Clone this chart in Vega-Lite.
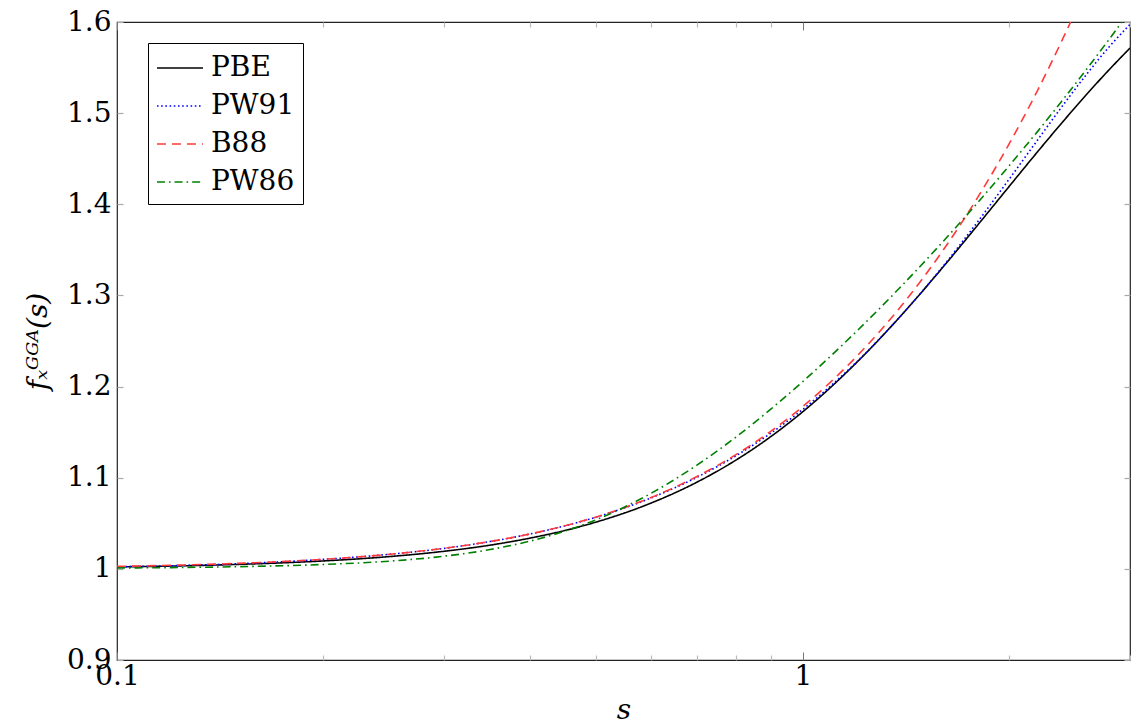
{
  "$schema": "https://vega.github.io/schema/vega-lite/v6.json",
  "width": 1013,
  "height": 638,
  "autosize": {"type": "none"},
  "padding": {"left": 117, "top": 22, "right": 1, "bottom": 67},
  "background": "white",
  "config": {
    "font": "DejaVu Serif",
    "view": {"stroke": "#222", "strokeWidth": 1.2},
    "axis": {"grid": false, "domain": false, "labelFont": "DejaVu Serif", "titleFont": "DejaVu Serif", "labelColor": "black", "titleColor": "black", "titleFontWeight": "normal", "labelFontSize": 28, "titleFontSize": 28},
    "legend": {"labelFont": "DejaVu Serif"}
  },
  "datasets": {
    "curves": [
      {"s": 0.1, "f": 1.0022, "m": "PBE"}, {"s": 0.12, "f": 1.0031, "m": "PBE"}, {"s": 0.15, "f": 1.0049, "m": "PBE"}, {"s": 0.2, "f": 1.0087, "m": "PBE"}, {"s": 0.25, "f": 1.0135, "m": "PBE"}, {"s": 0.3, "f": 1.0193, "m": "PBE"}, {"s": 0.35, "f": 1.026, "m": "PBE"}, {"s": 0.4, "f": 1.0337, "m": "PBE"}, {"s": 0.45, "f": 1.0421, "m": "PBE"}, {"s": 0.5, "f": 1.0514, "m": "PBE"}, {"s": 0.6, "f": 1.072, "m": "PBE"}, {"s": 0.7, "f": 1.0949, "m": "PBE"}, {"s": 0.8, "f": 1.1196, "m": "PBE"}, {"s": 0.9, "f": 1.1456, "m": "PBE"}, {"s": 1.0, "f": 1.1724, "m": "PBE"}, {"s": 1.2, "f": 1.2269, "m": "PBE"}, {"s": 1.4, "f": 1.2803, "m": "PBE"}, {"s": 1.6, "f": 1.3308, "m": "PBE"}, {"s": 1.8, "f": 1.3774, "m": "PBE"}, {"s": 2.0, "f": 1.4197, "m": "PBE"}, {"s": 2.2, "f": 1.4577, "m": "PBE"}, {"s": 2.4, "f": 1.4915, "m": "PBE"}, {"s": 2.6, "f": 1.5215, "m": "PBE"}, {"s": 2.8, "f": 1.548, "m": "PBE"}, {"s": 3.0, "f": 1.5714, "m": "PBE"},
      {"s": 0.1, "f": 1.0022, "m": "PW91"}, {"s": 0.12, "f": 1.0034, "m": "PW91"}, {"s": 0.15, "f": 1.0056, "m": "PW91"}, {"s": 0.2, "f": 1.0104, "m": "PW91"}, {"s": 0.25, "f": 1.016, "m": "PW91"}, {"s": 0.3, "f": 1.0225, "m": "PW91"}, {"s": 0.35, "f": 1.03, "m": "PW91"}, {"s": 0.4, "f": 1.0382, "m": "PW91"}, {"s": 0.45, "f": 1.0472, "m": "PW91"}, {"s": 0.5, "f": 1.0568, "m": "PW91"}, {"s": 0.6, "f": 1.0776, "m": "PW91"}, {"s": 0.7, "f": 1.1003, "m": "PW91"}, {"s": 0.8, "f": 1.1243, "m": "PW91"}, {"s": 0.9, "f": 1.1493, "m": "PW91"}, {"s": 1.0, "f": 1.175, "m": "PW91"}, {"s": 1.2, "f": 1.2275, "m": "PW91"}, {"s": 1.4, "f": 1.2802, "m": "PW91"}, {"s": 1.6, "f": 1.3317, "m": "PW91"}, {"s": 1.8, "f": 1.3811, "m": "PW91"}, {"s": 2.0, "f": 1.4277, "m": "PW91"}, {"s": 2.2, "f": 1.4706, "m": "PW91"}, {"s": 2.4, "f": 1.5095, "m": "PW91"}, {"s": 2.6, "f": 1.5437, "m": "PW91"}, {"s": 2.8, "f": 1.5731, "m": "PW91"}, {"s": 3.0, "f": 1.5973, "m": "PW91"},
      {"s": 0.1, "f": 1.0027, "m": "B88"}, {"s": 0.12, "f": 1.0039, "m": "B88"}, {"s": 0.15, "f": 1.006, "m": "B88"}, {"s": 0.2, "f": 1.0105, "m": "B88"}, {"s": 0.25, "f": 1.016, "m": "B88"}, {"s": 0.3, "f": 1.0226, "m": "B88"}, {"s": 0.35, "f": 1.03, "m": "B88"}, {"s": 0.4, "f": 1.0383, "m": "B88"}, {"s": 0.45, "f": 1.0473, "m": "B88"}, {"s": 0.5, "f": 1.057, "m": "B88"}, {"s": 0.6, "f": 1.0781, "m": "B88"}, {"s": 0.7, "f": 1.1011, "m": "B88"}, {"s": 0.8, "f": 1.1256, "m": "B88"}, {"s": 0.9, "f": 1.1514, "m": "B88"}, {"s": 1.0, "f": 1.1781, "m": "B88"}, {"s": 1.2, "f": 1.2336, "m": "B88"}, {"s": 1.4, "f": 1.2908, "m": "B88"}, {"s": 1.6, "f": 1.3491, "m": "B88"}, {"s": 1.8, "f": 1.4078, "m": "B88"}, {"s": 2.0, "f": 1.4665, "m": "B88"}, {"s": 2.2, "f": 1.5251, "m": "B88"}, {"s": 2.4, "f": 1.5834, "m": "B88"}, {"s": 2.5, "f": 1.6124, "m": "B88"}, {"s": 2.6, "f": 1.6413, "m": "B88"}, {"s": 2.8, "f": 1.6988, "m": "B88"}, {"s": 3.0, "f": 1.7558, "m": "B88"},
      {"s": 0.1, "f": 1.001, "m": "PW86"}, {"s": 0.12, "f": 1.0014, "m": "PW86"}, {"s": 0.15, "f": 1.0024, "m": "PW86"}, {"s": 0.2, "f": 1.0048, "m": "PW86"}, {"s": 0.25, "f": 1.0085, "m": "PW86"}, {"s": 0.3, "f": 1.0139, "m": "PW86"}, {"s": 0.35, "f": 1.0212, "m": "PW86"}, {"s": 0.4, "f": 1.0304, "m": "PW86"}, {"s": 0.45, "f": 1.0414, "m": "PW86"}, {"s": 0.5, "f": 1.054, "m": "PW86"}, {"s": 0.6, "f": 1.0826, "m": "PW86"}, {"s": 0.7, "f": 1.1136, "m": "PW86"}, {"s": 0.8, "f": 1.1449, "m": "PW86"}, {"s": 0.9, "f": 1.1758, "m": "PW86"}, {"s": 1.0, "f": 1.2055, "m": "PW86"}, {"s": 1.2, "f": 1.2612, "m": "PW86"}, {"s": 1.4, "f": 1.3121, "m": "PW86"}, {"s": 1.6, "f": 1.3588, "m": "PW86"}, {"s": 1.8, "f": 1.402, "m": "PW86"}, {"s": 2.0, "f": 1.4424, "m": "PW86"}, {"s": 2.2, "f": 1.48, "m": "PW86"}, {"s": 2.4, "f": 1.5156, "m": "PW86"}, {"s": 2.6, "f": 1.5493, "m": "PW86"}, {"s": 2.8, "f": 1.5815, "m": "PW86"}, {"s": 3.0, "f": 1.6122, "m": "PW86"}
    ],
    "anchor": [{"s": 1, "f": 1.2}]
  },
  "resolve": {"axis": {"x": "independent", "y": "independent"}},
  "layer": [
    {
      "data": {"name": "curves"},
      "mark": {"type": "line", "clip": true, "strokeWidth": 1.6, "interpolate": "monotone"},
      "encoding": {
        "x": {"field": "s", "type": "quantitative", "scale": {"type": "log", "domain": [0.1, 3], "nice": false},
          "axis": {"orient": "bottom", "values": [0.1, 1], "format": "~g", "tickSize": -8, "tickColor": "#777", "tickWidth": 1, "labelPadding": 10, "labelFlush": false, "title": "s", "titleFontStyle": "italic", "titlePadding": 6}},
        "y": {"field": "f", "type": "quantitative", "scale": {"domain": [0.9, 1.6], "zero": false, "nice": false},
          "axis": {"orient": "left", "values": [0.9, 1.0, 1.1, 1.2, 1.3, 1.4, 1.5, 1.6], "format": "~g", "tickSize": -6, "tickColor": "#aaa", "tickWidth": 1.2, "labelPadding": 12, "labelFlush": false, "title": "fₓᴳᴳᴬ(s)", "titleFontStyle": "italic", "titlePadding": 14}},
        "color": {"field": "m", "type": "nominal", "scale": {"domain": ["PBE", "PW91", "B88", "PW86"], "range": ["#000000", "#0000ff", "#ff3a3a", "#008000"]},
          "legend": {"orient": "none", "legendX": 31, "legendY": 21, "title": null, "strokeColor": "black", "fillColor": "white", "padding": 8, "cornerRadius": 0, "symbolType": "M-1.44,0H1.44", "symbolSize": 1024, "symbolOffset": 7, "symbolStrokeWidth": 1.6, "symbolFillColor": "transparent", "labelFontSize": 28, "labelColor": "black", "labelOffset": 14, "rowPadding": 7}},
        "strokeDash": {"field": "m", "type": "nominal", "scale": {"domain": ["PBE", "PW91", "B88", "PW86"], "range": [[1, 0], [1.6, 2.6], [9, 6], [8, 4, 1.6, 4]]}, "legend": null}
      }
    },
    {
      "data": {"name": "anchor"},
      "mark": {"type": "point", "opacity": 0},
      "encoding": {
        "x": {"field": "s", "type": "quantitative", "axis": {"orient": "bottom", "values": [0.2, 0.3, 0.4, 0.5, 0.6, 0.7, 0.8, 0.9, 2, 3], "labels": false, "tickSize": -5, "tickColor": "#bbb", "tickWidth": 1.2, "title": null}},
        "y": {"field": "f", "type": "quantitative", "axis": {"orient": "right", "values": [0.9, 1.0, 1.1, 1.2, 1.3, 1.4, 1.5, 1.6], "labels": false, "tickSize": -6, "tickColor": "#aaa", "tickWidth": 1.2, "title": null}}
      }
    },
    {
      "data": {"name": "anchor"},
      "mark": {"type": "point", "opacity": 0},
      "encoding": {
        "x": {"field": "s", "type": "quantitative", "axis": {"orient": "top", "values": [0.1, 1], "labels": false, "tickSize": -8, "tickColor": "#777", "tickWidth": 1, "title": null}},
        "y": {"field": "f", "type": "quantitative", "axis": null}
      }
    },
    {
      "data": {"name": "anchor"},
      "mark": {"type": "point", "opacity": 0},
      "encoding": {
        "x": {"field": "s", "type": "quantitative", "axis": {"orient": "top", "values": [0.2, 0.3, 0.4, 0.5, 0.6, 0.7, 0.8, 0.9, 2, 3], "labels": false, "tickSize": -5, "tickColor": "#bbb", "tickWidth": 1.2, "title": null}},
        "y": {"field": "f", "type": "quantitative", "axis": null}
      }
    }
  ]
}
